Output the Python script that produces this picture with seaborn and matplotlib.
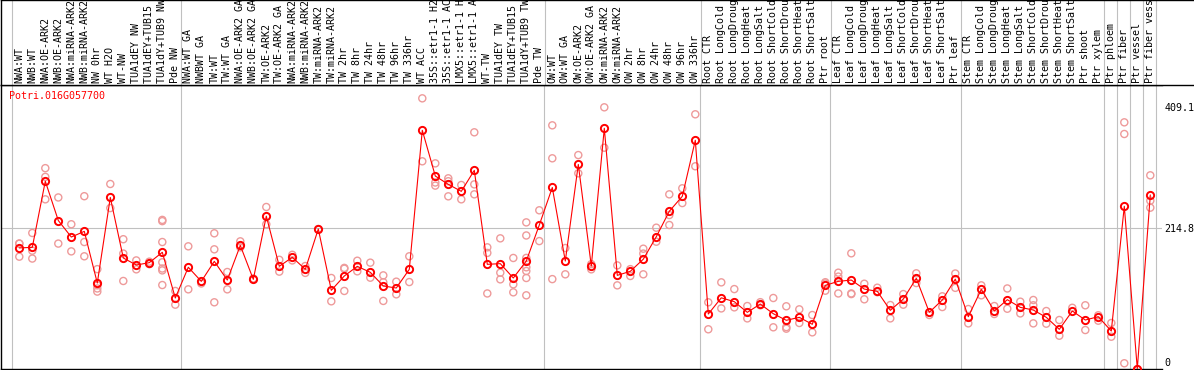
import numpy as np
import pandas as pd
import matplotlib
matplotlib.use("Agg")
import matplotlib.pyplot as plt
import matplotlib.transforms as mtransforms
import seaborn as sns

# sample labels, one list per block of the chart
wood_nw = ["NWA:WT", "NWB:WT", "NWA:OE-ARK2", "NWB:OE-ARK2", "NWA:miRNA-ARK2",
           "NWB:miRNA-ARK2", "NW 0hr", "WT H2O", "WT-NW", "TUA1dEY NW",
           "TUA1dEY+TUB15 NW", "TUA1dY+TUB9 NW", "Pde NW"]
wood_tw = ["NWA:WT GA", "NWBWT GA", "TW:WT", "TW:WT GA", "NWA:OE-ARK2 GA",
           "NWB:OE-ARK2 GA", "TW:OE-ARK2", "TW:OE-ARK2 GA", "NWA:miRNA-ARK2",
           "NWB:miRNA-ARK2", "TW:miRNA-ARK2", "TW:miRNA-ARK2", "TW 2hr", "TW 8hr",
           "TW 24hr", "TW 48hr", "TW 96hr", "TW 336hr", "WT ACC", "35S::etr1-1 H2O",
           "35S::etr1-1 ACC", "LMX5::etr1-1 H2O", "LMX5::etr1-1 ACC", "WT-TW",
           "TUA1dEY TW", "TUA1dEY+TUB15 TW", "TUA1dY+TUB9 TW", "Pde TW"]
wood_ow = ["OW:WT", "OW:WT GA", "OW:OE-ARK2", "OW:OE-ARK2 GA", "OW:miRNA-ARK2",
           "OW:miRNA-ARK2", "OW 2hr", "OW 8hr", "OW 24hr", "OW 48hr", "OW 96hr",
           "OW 336hr"]
stress = ["CTR", "LongCold", "LongDrought", "LongHeat", "LongSalt", "ShortCold",
          "ShortDrought", "ShortHeat", "ShortSalt"]
root = ["Root " + s for s in stress] + ["Ptr root"]
leaf = ["Leaf " + s for s in stress] + ["Ptr leaf"]
stem = ["Stem " + s for s in stress] + ["Ptr shoot"]
tissue = ["Ptr xylem", "Ptr phloem", "Ptr fiber", "Ptr vessel", "Ptr fiber vessel"]
labels = wood_nw + wood_tw + wood_ow + root + leaf + stem + tissue

gene = "Potri.016G057700"

# mean expression per sample
means = [183, 184, 290, 227, 200.5, 209.6, 126.7, 264, 166.9, 155.6, 159.4, 176, 102.7,
         152, 129.4, 161.5, 131.5, 187, 132.6, 234, 153.5, 168, 148.7, 213.4, 115, 138,
         153.5, 143.9, 122, 118.7, 148.7, 371.7, 298.4, 285, 273.8, 307.5, 156.7, 157.8,
         134.8, 162, 219.8,
         280, 162, 317, 154, 375, 139, 145.5, 165, 201, 241.8, 265.8, 355.7,
         77, 103, 96.8, 79.7, 93, 77.5, 66.9, 71.7, 60.5, 123,
         129.4, 131.5, 117, 113.4, 82.9, 101, 134.2, 79.7, 99.5, 133,
         72.7, 116.6, 81.8, 100, 87.7, 83.4, 71.7, 52.4, 81.8, 67.4,
         72.7, 49.7, 249.8, -11, 268]

# individual replicates per sample
reps = [[190, 190, 169], [207, 178.6, 166], [311, 297, 261], [264, 190], [221, 177.5],
        [266, 192.5, 169.6], [149, 123, 118, 113], [285.6, 247], [197, 174, 130],
        [163, 148.7], [161, 157], [228, 226, 192.5, 160, 150, 147, 123.5], [114, 92],
        [185.6, 116.6], [126], [206.5, 180.8, 95.8], [144.4, 116.6], [193.6, 184], [134],
        [248.7, 221], [164, 145], [172, 163], [154, 143], [213.4], [134.8, 97.4],
        [151, 149.7, 114], [162.5, 145.5], [159.4, 135.3], [139, 128, 98], [128.9, 108.6],
        [169.6, 128.3], [423, 322], [318.7, 288, 283], [294.7, 290, 265.8], [284, 261],
        [368.5, 285, 269], [184, 175, 110], [198.4, 143.3, 132.6], [166.9, 124.6, 111.8],
        [224, 203, 167, 152, 146, 134.8, 107], [243.4, 194],
        [379.7, 326.8, 133], [182.9, 140.7], [332, 302.7], [157, 148.7], [408.6, 343.8],
        [155, 123], [149, 138], [181.8, 174, 140.7], [215.5, 193], [269, 235.8, 219.8],
        [278.7, 255], [397.4, 314],
        [95.8, 52.5], [127.8, 86], [117, 87.7], [89.8, 70], [96, 91], [102.7, 55.7],
        [89.4, 56, 53.5], [84.5, 62.6], [75.4, 47.6], [128, 126, 114.4],
        [143.3, 137, 110], [174.4, 110, 109], [125.6, 100.6], [119.2, 112], [91.4, 70],
        [109, 92], [142.3, 126.7], [75.4], [105.4, 88.2], [142, 119],
        [85, 62], [123, 107], [89.8, 77], [118, 85.5], [96.8, 78], [99.5, 91, 62],
        [81.8, 61.5], [67.4, 42.2], [87], [91, 51.3],
        [75, 66.3], [62.6, 40.6], [384.5, 365.8, -2], [-12, -12], [299.5, 258.8, 247.6]]

y_ticks = [0, 214.8, 409.1]
group_ends = [-1, 12, 40, 52, 62, 72, 83, 84, 85, 86, 87]

pos = np.arange(len(labels))
df_mean = pd.DataFrame({"pos": pos, "value": means})
df_rep = pd.DataFrame([(i, v) for i, r in enumerate(reps) for v in r], columns=["pos", "value"])

sns.set_style("white")
plt.rcParams["font.family"] = ["DejaVu Sans Mono"]
plt.rcParams["font.size"] = 7.2

W, H = 1194, 370
lab_h = 85
plot_r = 1162
x0, dx = 19.3, 13.0   # pixel of first sample, pixel step

fig = plt.figure(figsize=(W / 100, H / 100), dpi=100)
ax = fig.add_axes([1 / W, 1 / H, (plot_r - 1) / W, (H - lab_h - 1) / H])
axl = fig.add_axes([1 / W, (H - lab_h) / H, (W - 1) / W, lab_h / H])

ax.set_xlim((1 - x0) / dx, (plot_r - x0) / dx)
axl.set_xlim((1 - x0) / dx, (W - x0) / dx)
ax.set_ylim(-11.2, 444.4)
axl.set_ylim(0, 1)

grid = "#c0c0c0"
ax.axhline(214.8, color=grid, lw=0.8, zorder=0)
for k in group_ends:
    ax.axvline(k + 0.4, color=grid, lw=0.8, zorder=0)
    axl.axvline(k + 0.4, color=grid, lw=0.8, zorder=0)

sns.scatterplot(data=df_rep, x="pos", y="value", ax=ax, marker="o", s=26,
                facecolor="none", edgecolor="#ee9a9a", linewidth=1.0, zorder=2)
sns.lineplot(data=df_mean, x="pos", y="value", ax=ax, sort=False, color="red",
             lw=0.8, marker="o", markersize=5.2, markerfacecolor="none",
             markeredgecolor="red", markeredgewidth=1.4, zorder=3)

ax.set_xticks([])
ax.set_xlabel("")
ax.set_ylabel("")
ax.yaxis.tick_right()
ax.set_yticks(y_ticks)
ax.set_yticklabels(["0", "214.8", "409.1"])
ax.tick_params(axis="y", length=0, pad=1.5, labelsize=7.2, labelcolor="black")
for side in ["left", "bottom", "top"]:
    ax.spines[side].set_color("black")
    ax.spines[side].set_linewidth(1)
ax.spines["right"].set_visible(False)

ax.text(8 / (plot_r - 1), 1 - 11 / (H - lab_h - 1), gene, transform=ax.transAxes,
        color="red", fontsize=7.2, ha="left", va="center")

trans = mtransforms.blended_transform_factory(axl.transData, axl.transAxes)
for i, lab in enumerate(labels):
    axl.text(i, 2 / lab_h, lab, transform=trans, rotation=90, ha="center", va="bottom",
             fontsize=7.2, color="black", clip_on=True)
axl.set_xticks([])
axl.set_yticks([])
for side in ["left", "bottom", "top"]:
    axl.spines[side].set_color("black")
    axl.spines[side].set_linewidth(1)
axl.spines["right"].set_visible(False)

fig.savefig("out.png", dpi=100)
